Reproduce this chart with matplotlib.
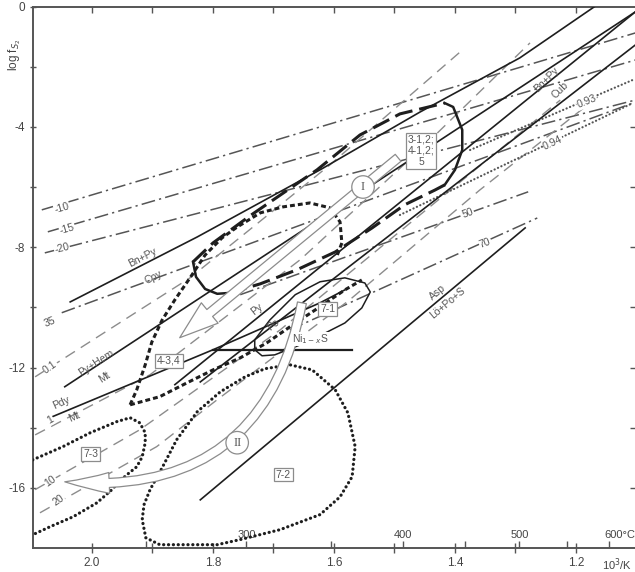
import matplotlib
matplotlib.use("Agg")
import matplotlib.pyplot as plt
from matplotlib.patches import FancyArrowPatch

plt.rcParams["font.family"] = ["Liberation Sans", "DejaVu Sans"]
plt.rcParams["axes.unicode_minus"] = False
plt.rcParams["lines.scale_dashes"] = False

INK = "#1e1e1e"
GREY = "#555555"
LIGHT = "#8c8c8c"
SPINE = "#555555"

# log fO2 isobars (dash-dot), x = 1000/T, y = log fS2
o2_10_x, o2_10_y = [2.083, 1.102], [-6.76, -0.88]
o2_15_x, o2_15_y = [2.073, 1.102], [-7.49, -1.78]
o2_20_x, o2_20_y = [2.078, 1.102], [-8.19, -3.11]

# isopleths 35 / 50 / 70 (dash-dot)
iso35_x, iso35_y = [2.050, 1.106], [-10.18, -3.21]
iso50_x, iso50_y = [1.755, 1.279], [-9.58, -6.16]
iso70_x, iso70_y = [1.673, 1.264], [-10.75, -7.03]

# isopleths 0.93 / 0.94 (dotted)
n93_x, n93_y = [1.375, 1.106], [-4.77, -2.44]
n94_x, n94_y = [1.491, 1.106], [-6.93, -3.21]

# isopleths 0.1 / 1 / 10 / 20 (dashed)
s01_x = [2.094, 1.838, 1.607, 1.388]
s01_y = [-12.31, -9.02, -5.27, -1.45]
s1_x = [2.094, 1.904, 1.656, 1.458, 1.276]
s1_y = [-14.24, -12.24, -8.42, -4.77, -1.21]
s10_x = [2.094, 1.921, 1.689, 1.458, 1.226]
s10_y = [-16.06, -14.07, -10.75, -6.93, -3.11]
s20_x = [2.086, 1.893, 1.793, 1.574, 1.359, 1.160]
s20_y = [-16.83, -14.63, -13.07, -9.75, -6.10, -2.94]

# sulfidation reactions (solid)
cpy_x = [2.036, 1.826, 1.623, 1.458, 1.293, 1.169]
cpy_y = [-9.82, -7.66, -5.43, -3.51, -1.71, 0.0]
hem_x, hem_y = [2.045, 1.102], [-12.64, -0.18]
pdy_x = [2.066, 1.800, 1.623, 1.582]
pdy_y = [-13.64, -11.41, -9.85, -9.42]
po1_x, po1_y = [1.863, 1.102], [-12.57, -0.18]
po2_x, po2_y = [1.821, 1.102], [-12.48, -1.28]
asp_x, asp_y = [1.821, 1.284], [-16.40, -7.36]
ni_x, ni_y = [1.800, 1.570], [-11.41, -11.41]

# field 7-1 (thin solid loop)
f71_x = [1.731, 1.719, 1.698, 1.656, 1.620, 1.582, 1.554, 1.540, 1.549,
         1.582, 1.623, 1.664, 1.706, 1.731, 1.731]
f71_y = [-11.41, -11.61, -11.58, -11.25, -10.91, -10.52, -10.02, -9.49, -9.19,
         -9.02, -9.15, -9.58, -10.42, -11.08, -11.41]

# field 3-1,2 / 4-1,2 / 5 (heavy long dashes)
f31_up_x = [1.833, 1.800, 1.739, 1.628, 1.557, 1.491, 1.417]
f31_up_y = [-8.49, -7.86, -6.96, -5.43, -4.27, -3.57, -3.21]
f31_arc_x = [1.417, 1.403, 1.388, 1.388, 1.400, 1.417]
f31_arc_y = [-3.21, -3.34, -4.10, -4.77, -5.43, -5.93]
f31_lo_x = [1.417, 1.433, 1.483, 1.537, 1.598, 1.661, 1.722, 1.772]
f31_lo_y = [-5.93, -6.10, -6.59, -7.36, -8.16, -8.75, -9.22, -9.52]
f31_hook_x = [1.833, 1.828, 1.813, 1.793, 1.772]
f31_hook_y = [-8.49, -8.99, -9.39, -9.55, -9.52]

# field 4-3,4 (heavy short dashes)
f43_up_x = [1.937, 1.926, 1.912, 1.901, 1.884, 1.863, 1.838, 1.813, 1.785,
            1.760, 1.722, 1.684, 1.640, 1.607, 1.590, 1.587, 1.595]
f43_up_y = [-13.24, -12.74, -11.91, -11.15, -10.42, -9.75, -9.02, -8.26, -7.69,
            -7.33, -6.86, -6.66, -6.53, -6.69, -7.16, -7.86, -8.29]
f43_lo_x = [1.937, 1.888, 1.843, 1.800, 1.755, 1.711, 1.668, 1.623, 1.582, 1.554]
f43_lo_y = [-13.24, -12.97, -12.51, -12.08, -11.68, -11.18, -10.58, -9.98, -9.42, -9.09]

# field 7-3 (dotted)
f73_x = [2.098, 2.048, 2.003, 1.959, 1.937, 1.921, 1.912, 1.912, 1.917, 1.926,
         1.942, 1.957, 1.967, 1.992, 2.031, 2.069, 2.098]
f73_y = [-15.07, -14.63, -14.17, -13.80, -13.67, -13.84, -14.17, -14.50, -14.97, -15.30,
         -15.56, -15.83, -16.06, -16.50, -16.96, -17.29, -17.56]

# field 7-2 (dotted)
f72_x = [1.793, 1.888, 1.911, 1.917, 1.914, 1.904, 1.884, 1.860, 1.826, 1.788,
         1.747, 1.714, 1.673, 1.636, 1.598, 1.577, 1.565, 1.570, 1.590, 1.623,
         1.689, 1.755, 1.793]
f72_y = [-17.89, -17.89, -17.66, -17.06, -16.56, -16.06, -15.33, -14.40, -13.47, -12.81,
         -12.31, -12.04, -11.91, -12.08, -12.74, -13.51, -14.63, -15.63, -16.30, -16.89,
         -17.39, -17.72, -17.89]

# evolution trends I and II (start, end)
trend1_x, trend1_y = [1.494, 1.855], [-5.03, -11.01]
trend2_x, trend2_y = [1.653, 2.045], [-9.85, -15.80]

# temperature scale on the 1000/T axis
temps_c = [250, 300, 350, 400, 450, 500, 550, 600]
temp_labels = {300: "300", 400: "400", 500: "500", 600: "600°C"}

phase_labels = [
    ("Bn+Py", 1.916, -8.36, 27), ("Cpy", 1.899, -8.99, 27),
    ("Py+Hem", 1.993, -11.84, 33), ("Mt", 1.979, -12.34, 33),
    ("Pdy", 2.050, -13.17, 24), ("Mt", 2.030, -13.64, 24),
    ("Py", 1.727, -10.08, 38), ("Po", 1.700, -10.58, 38),
    ("Asp", 1.428, -9.52, 40), ("Lö+Po+S", 1.412, -9.85, 40),
    ("Bn+Py", 1.248, -2.44, 45), ("Cub", 1.226, -2.77, 45),
]
line_labels = [
    ("-10", 2.050, -6.69, 16), ("-15", 2.041, -7.39, 16), ("-20", 2.050, -8.02, 14),
    ("35", 2.069, -10.48, 22), ("0.1", 2.069, -11.98, 35), ("1", 2.069, -13.74, 30),
    ("10", 2.069, -15.77, 35), ("20", 2.056, -16.40, 35),
    ("50", 1.379, -6.86, 20), ("70", 1.350, -7.86, 20),
    ("0.93", 1.182, -3.17, 22), ("0.94", 1.238, -4.53, 25),
    ("Ni$_{1-x}$S", 1.640, -11.05, 0),
]
sample_boxes = [
    ("3-1,2;\n4-1,2;\n5", 1.456, -4.80), ("7-1", 1.610, -10.05),
    ("4-3,4", 1.873, -11.78), ("7-3", 2.002, -14.87), ("7-2", 1.684, -15.56),
]
trend_marks = [("I", 1.552, -6.00), ("II", 1.760, -14.50)]

fig = plt.figure(figsize=(6.35, 5.72), dpi=100)
ax = fig.add_axes([33 / 635, 24 / 572, 605 / 635, 541.5 / 572])
ax.set_xlim(2.0975, 1.0975)
ax.set_ylim(-18, 0)

dashdot = (0, (10, 3, 1.6, 3))
dashed = (0, (8, 5))

for xs, ys in [(o2_10_x, o2_10_y), (o2_15_x, o2_15_y), (o2_20_x, o2_20_y),
               (iso35_x, iso35_y), (iso50_x, iso50_y), (iso70_x, iso70_y)]:
    ax.plot(xs, ys, color=GREY, lw=1.1, ls=dashdot, zorder=2)

for xs, ys in [(s01_x, s01_y), (s1_x, s1_y), (s10_x, s10_y), (s20_x, s20_y)]:
    ax.plot(xs, ys, color=LIGHT, lw=1.0, ls=dashed, zorder=2)

for xs, ys in [(n93_x, n93_y), (n94_x, n94_y)]:
    ax.plot(xs, ys, color=GREY, lw=1.6, ls=(0, (0.1, 2.6)),
            dash_capstyle="round", zorder=2)

for xs, ys in [(cpy_x, cpy_y), (hem_x, hem_y), (pdy_x, pdy_y), (po1_x, po1_y),
               (po2_x, po2_y), (asp_x, asp_y)]:
    ax.plot(xs, ys, color=INK, lw=1.2, zorder=3)
ax.plot(ni_x, ni_y, color=INK, lw=1.6, zorder=3)
ax.plot(f71_x, f71_y, color=INK, lw=1.1, zorder=3)

# sample fields
ax.plot(f31_up_x, f31_up_y, color=INK, lw=2.2, ls=(0, (13, 5)), zorder=4)
ax.plot(f31_lo_x, f31_lo_y, color=INK, lw=2.2, ls=(0, (13, 5)), zorder=4)
ax.plot(f31_arc_x, f31_arc_y, color=INK, lw=1.8, zorder=4)
ax.plot(f31_hook_x, f31_hook_y, color=INK, lw=1.8, zorder=4)
ax.plot(f43_up_x, f43_up_y, color=INK, lw=2.2, ls=(0, (3.5, 2.2)), zorder=4)
ax.plot(f43_lo_x, f43_lo_y, color=INK, lw=2.2, ls=(0, (3.5, 2.2)), zorder=4)
for xs, ys in [(f73_x, f73_y), (f72_x, f72_y)]:
    ax.plot(xs, ys, color=INK, lw=2.3, ls=(0, (0.1, 3.4)),
            dash_capstyle="round", zorder=4)

# trend arrows
arr1 = FancyArrowPatch((trend1_x[0], trend1_y[0]), (trend1_x[1], trend1_y[1]),
                       arrowstyle="simple,head_length=28,head_width=19,tail_width=6.5",
                       mutation_scale=1, shrinkA=0, shrinkB=0,
                       fc="white", ec=LIGHT, lw=0.9, zorder=6)
arr2 = FancyArrowPatch((trend2_x[0], trend2_y[0]), (trend2_x[1], trend2_y[1]),
                       connectionstyle="arc3,rad=-0.45",
                       arrowstyle="simple,head_length=32,head_width=15,tail_width=6.5",
                       mutation_scale=1, shrinkA=0, shrinkB=0,
                       fc="white", ec=LIGHT, lw=0.9, zorder=6)
ax.add_patch(arr1)
ax.add_patch(arr2)

for txt, x, y in trend_marks:
    ax.text(x, y, txt, ha="center", va="center", fontsize=9,
            family=["Liberation Serif", "DejaVu Serif"], color=GREY, zorder=8,
            bbox=dict(boxstyle="circle,pad=0.42", fc="white", ec=LIGHT, lw=0.9))

for txt, x, y in sample_boxes:
    ax.text(x, y, txt, ha="center", va="center", fontsize=7.5, color=GREY,
            linespacing=1.15, zorder=8,
            bbox=dict(boxstyle="square,pad=0.18", fc="white", ec=LIGHT, lw=0.9))

for txt, x, y, rot in phase_labels:
    ax.text(x, y, txt, ha="center", va="center", fontsize=7.5, color=GREY,
            rotation=rot, rotation_mode="anchor", zorder=7)

for txt, x, y, rot in line_labels:
    ax.text(x, y, txt, ha="center", va="center", fontsize=7.5, color=GREY,
            rotation=rot, rotation_mode="anchor", zorder=7,
            bbox=dict(boxstyle="square,pad=0.05", fc="white", ec="none"))

# axes styling
for side in ["left", "top", "bottom"]:
    ax.spines[side].set_color(SPINE)
    ax.spines[side].set_linewidth(1.4)
ax.spines["right"].set_visible(False)

ax.set_xticks([2.0, 1.8, 1.6, 1.4, 1.2])
ax.set_xticks([1.9, 1.7, 1.5, 1.3], minor=True)
ax.set_xticklabels(["2.0", "1.8", "1.6", "1.4", "1.2"])
ax.set_yticks([0, -4, -8, -12, -16])
ax.set_yticks([-2, -6, -10, -14], minor=True)
ax.set_yticklabels(["0", "-4", "-8", "-12", "-16"])
ax.tick_params(axis="x", which="both", direction="inout", length=7, width=1.0,
               color=SPINE, labelsize=8.5, labelcolor="#444444", pad=3)
ax.tick_params(axis="y", which="both", direction="inout", length=5, width=1.0,
               color=SPINE, labelsize=8.5, labelcolor="#444444", pad=3)

top = ax.secondary_xaxis("top")
top.set_xticks([2.0, 1.9, 1.8, 1.7, 1.6, 1.5, 1.4, 1.3, 1.2])
top.tick_params(direction="in", length=5, width=1.0, color=SPINE, labeltop=False)
for s in top.spines.values():
    s.set_visible(False)

right = ax.secondary_yaxis("right")
right.set_yticks([-4, -6, -8, -10, -12, -14, -16])
right.tick_params(direction="in", length=6, width=1.0, color=SPINE, labelright=False)
for s in right.spines.values():
    s.set_visible(False)

# temperature ticks along the bottom
temp_x = [1000.0 / (t + 273.15) for t in temps_c]
ax.vlines(temp_x, -18, -17.78, color=SPINE, lw=1.0, zorder=5)
for t, x in zip(temps_c, temp_x):
    if t in temp_labels:
        ax.annotate(temp_labels[t], (x, -17.72), xytext=(8 if t == 600 else 0, 0),
                    textcoords="offset points", ha="center", va="bottom",
                    fontsize=8, color="#444444")

ax.text(1.132, -18.56, "10$^3$/K", ha="center", va="center", fontsize=8,
        color="#444444", clip_on=False)
ax.text(-0.03, -1.61, "log f$_{S_2}$", transform=ax.get_yaxis_transform(),
        rotation=90, ha="center", va="center", fontsize=8.5, color="#444444")

fig.savefig("out.png", dpi=100)
